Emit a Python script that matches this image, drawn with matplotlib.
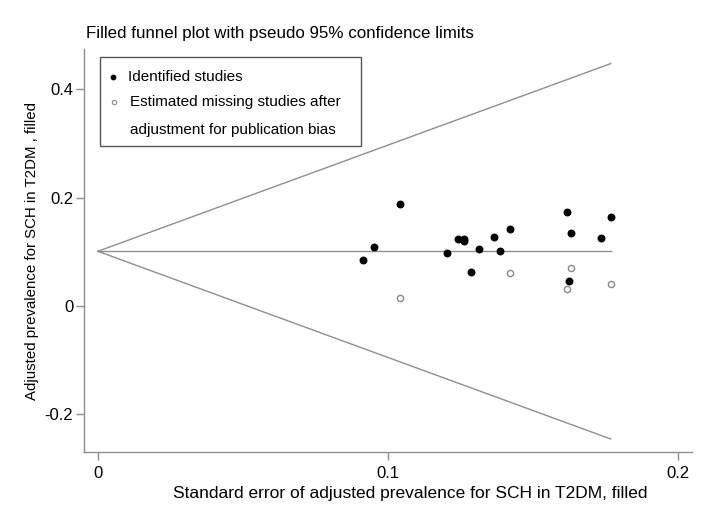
import numpy as np
import matplotlib
matplotlib.use("Agg")
import matplotlib.pyplot as plt
from matplotlib.patches import Rectangle

plt.rcParams['font.family'] = ['Liberation Sans', 'DejaVu Sans']

# identified studies: standard error, adjusted prevalence
se_obs = [0.0914, 0.0953, 0.1043, 0.1205, 0.1240, 0.1262, 0.1262, 0.1285, 0.1315,
          0.1367, 0.1387, 0.1422, 0.1618, 0.1630, 0.1624, 0.1736, 0.1768]
prev_obs = [0.084, 0.108, 0.188, 0.097, 0.124, 0.124, 0.120, 0.062, 0.106,
            0.128, 0.102, 0.143, 0.174, 0.134, 0.047, 0.126, 0.165]

# filled (imputed) studies
se_fill = [0.1043, 0.1422, 0.1630, 0.1618, 0.1768]
prev_fill = [0.015, 0.061, 0.070, 0.031, 0.040]

pooled = 0.101
se_max = 0.1768

x_ticks = [0, 0.1, 0.2]
x_ticklabels = ["0", "0.1", "0.2"]
y_ticks = [-0.2, 0, 0.2, 0.4]
y_ticklabels = ["-0.2", "0", "0.2", "0.4"]

line_col = "#8e8e8e"

fig = plt.figure(figsize=(7.08, 5.09), dpi=100)
ax = fig.add_axes([0.1186, 0.112, 0.8588, 0.7917])

# pseudo 95% confidence limits
se_line = np.array([0, se_max])
ax.plot(se_line, pooled + 1.96 * se_line, color=line_col, lw=1)
ax.plot(se_line, pooled - 1.96 * se_line, color=line_col, lw=1)
ax.plot(se_line, [pooled, pooled], color=line_col, lw=1)

ax.scatter(se_obs, prev_obs, s=22, color="black", zorder=3)
ax.scatter(se_fill, prev_fill, s=20, facecolor="white", edgecolor="#8a8a8a",
           linewidth=1, zorder=3)

ax.set_xlim(-0.0048, 0.2048)
ax.set_ylim(-0.2695, 0.4744)
ax.set_xticks(x_ticks)
ax.set_xticklabels(x_ticklabels)
ax.set_yticks(y_ticks)
ax.set_yticklabels(y_ticklabels)

for s in ["top", "right"]:
    ax.spines[s].set_visible(False)
for s in ["left", "bottom"]:
    ax.spines[s].set_color(line_col)
    ax.spines[s].set_linewidth(1)
ax.tick_params(direction="out", length=5.8, width=1, color=line_col, labelsize=12)
ax.tick_params(axis="y", pad=2)
ax.tick_params(axis="x", pad=4)

ax.set_xlabel("Standard error of adjusted prevalence for SCH in T2DM, filled",
              fontsize=12.5)
ax.xaxis.set_label_coords(0.536, -0.085)
ax.set_ylabel("Adjusted prevalence for SCH in T2DM , filled", fontsize=10.8, labelpad=4)
fig.text(0.121, 0.935, "Filled funnel plot with pseudo 95% confidence limits",
         fontsize=12.2, ha="left", va="center")

# legend box
ax.add_patch(Rectangle((0.0263, 0.759), 0.4293, 0.220, transform=ax.transAxes,
                       facecolor="white", edgecolor="#555555", lw=1, zorder=4))
ax.scatter([0.048], [0.931], s=10, color="black", transform=ax.transAxes, zorder=5)
ax.scatter([0.050], [0.869], s=10, facecolor="white", edgecolor="#8a8a8a",
           linewidth=0.8, transform=ax.transAxes, zorder=5)
ax.text(0.072, 0.931, "Identified studies", transform=ax.transAxes, fontsize=11,
        va="center", zorder=5)
ax.text(0.076, 0.869, "Estimated missing studies after", transform=ax.transAxes,
        fontsize=11, va="center", zorder=5)
ax.text(0.076, 0.799, "adjustment for publication bias", transform=ax.transAxes,
        fontsize=11, va="center", zorder=5)

fig.savefig("out.png", dpi=100)
